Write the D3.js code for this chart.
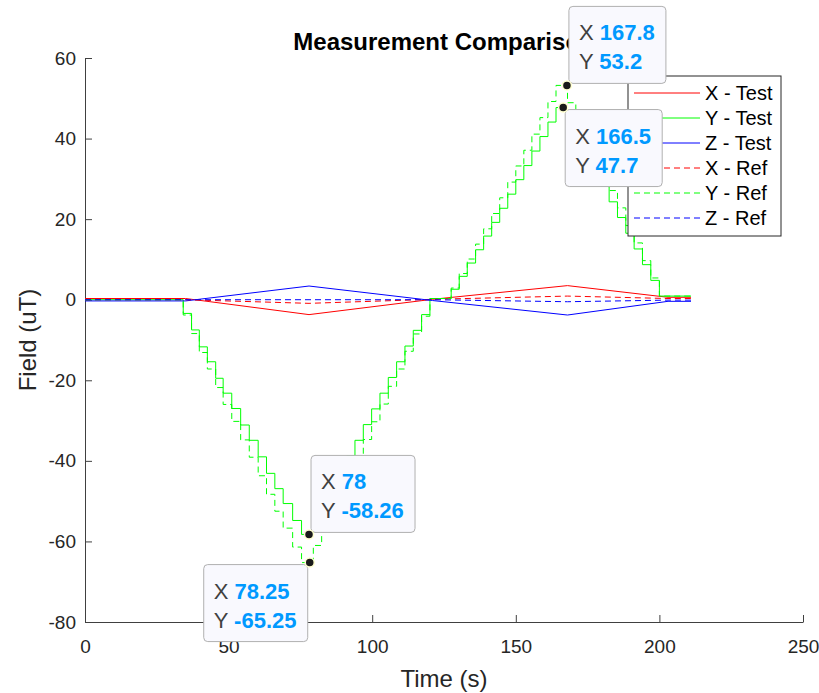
<!DOCTYPE html>
<html>
<head>
<meta charset="utf-8">
<script src="https://cdn.jsdelivr.net/npm/d3@7"></script>
<style>
body{margin:0;background:#fff;}
svg{display:block;font-family:"Liberation Sans",Arial,Helvetica,sans-serif;}
</style>
</head>
<body>
<div id="chart"></div>
<script>
//tick values and labels
const xTicks = [0,50,100,150,200,250];
const yTicks = [-80,-60,-40,-20,0,20,40,60];
const titleText = 'Measurement Comparison';
const xLabel = 'Time (s)';
const yLabel = 'Field (uT)';

//series names in legend order
const seriesNames = ['X - Test','Y - Test','Z - Test','X - Ref','Y - Ref','Z - Ref'];

//slow components (X and Z), read at the corners of each ramp
const rampTimes = [0, 35, 78, 121, 168, 203, 211];
const xTest = [0.3, 0.3, -3.7, 0.1, 3.5, 0.6, 0.6];
const zTest = [-0.3, -0.3, 3.4, -0.2, -3.8, -0.4, -0.4];
const xRef  = [0.0, 0.0, -0.9, 0.1, 0.9, 0.3, 0.3];
const zRef  = [0.0, 0.0, 0.0, 0.0, -0.5, -0.1, -0.1];

//staircase component (Y), time where each step starts and the level it holds
const stepTimes = [0,
    34.2, 37.1, 39.8, 42.6, 45.5, 48.1, 51.1, 54.2, 57.2, 60.3, 63.2, 66.1, 69.0, 72.3, 75.4,
    79.5, 82.4, 85.3, 88.2, 91.1, 94.0, 96.9, 99.8, 102.7, 105.6, 108.5, 111.4, 114.3, 117.2, 120.1,
    127.5, 130.3, 133.1, 136.0, 138.8, 141.6, 144.4, 147.2, 150.0, 152.8, 155.6, 158.4, 161.2, 164.0,
    168.0, 170.9, 173.8, 176.7, 179.6, 182.5, 185.4, 188.3, 191.2, 194.1, 197.0, 200.0,
    211];
const yTest = [0,
    -3.4, -7.5, -11.7, -15.4, -19.5, -23.2, -27.0, -31.1, -34.9, -39.0, -43.1, -46.9, -50.6, -54.8, -58.26,
    -54.4, -50.5, -46.6, -42.7, -38.8, -34.9, -31.0, -27.1, -23.2, -19.3, -15.4, -11.5, -7.6, -3.7, 0.3,
    2.6, 5.8, 9.1, 12.4, 15.8, 19.2, 22.7, 26.2, 29.8, 33.3, 36.9, 40.5, 44.1, 47.7,
    43.8, 39.9, 36.0, 32.1, 28.2, 24.3, 20.4, 16.5, 12.6, 8.7, 4.8, 0.9,
    0.9];
const yRef = [0,
    -3.8, -8.4, -13.1, -17.2, -21.8, -26.0, -30.2, -34.8, -39.1, -43.7, -48.3, -52.5, -56.7, -61.4, -65.25,
    -61.0, -56.6, -52.2, -47.8, -43.4, -39.0, -34.7, -30.3, -25.9, -21.5, -17.2, -12.8, -8.5, -4.1, 0.3,
    2.9, 6.5, 10.1, 13.8, 17.6, 21.4, 25.3, 29.2, 33.2, 37.1, 41.1, 45.2, 49.2, 53.2,
    48.9, 44.5, 40.2, 35.8, 31.5, 27.1, 22.8, 18.4, 14.1, 9.7, 5.4, 0.9,
    0.9];

//data tips
const tipX = [167.8, 166.5, 78, 78.25];
const tipY = [53.2, 47.7, -58.26, -65.25];

//layout
const CONSTANTS = {
    WIDTH:819,
    HEIGHT:693,
    LEFT:85,
    RIGHT:803,
    TOP:58,
    BOTTOM:622,
    TICK:7,
    AXIS_COLOR:'#404040',
    TEXT_COLOR:'#262626',
    COLORS:['#ff0000','#00ff00','#0000ff','#ff0000','#00ff00','#0000ff'],
    DASH:'6,4',
    TIP_CORNERS:['bl','tl','bl','tr'] //which corner of the box sits on the point
};

const svg = d3.select('#chart')
    .append('svg')
    .attr('width',CONSTANTS.WIDTH)
    .attr('height',CONSTANTS.HEIGHT);

//scales
const x = d3.scaleLinear().domain([0,250]).range([CONSTANTS.LEFT,CONSTANTS.RIGHT]);
const y = d3.scaleLinear().domain([-80,60]).range([CONSTANTS.BOTTOM,CONSTANTS.TOP]);

//axes, ticks point inwards like matlab, plain hyphen for negatives
const xAxis = d3.axisBottom(x).tickValues(xTicks).tickFormat(d=>String(d))
    .tickSizeInner(-CONSTANTS.TICK).tickSizeOuter(0).tickPadding(18);
const yAxis = d3.axisLeft(y).tickValues(yTicks).tickFormat(d=>String(d))
    .tickSizeInner(-CONSTANTS.TICK).tickSizeOuter(0).tickPadding(9);

const gx = svg.append('g')
    .attr('transform','translate(0,'+CONSTANTS.BOTTOM+')')
    .call(xAxis);
const gy = svg.append('g')
    .attr('transform','translate('+CONSTANTS.LEFT+',0)')
    .call(yAxis);

[gx,gy].forEach(g=>{
    g.selectAll('path,line').attr('stroke',CONSTANTS.AXIS_COLOR);
    g.selectAll('text').attr('fill',CONSTANTS.TEXT_COLOR).style('font-size','19px');
});

//title and labels
svg.append('text')
    .attr('x',(CONSTANTS.LEFT+CONSTANTS.RIGHT)/2)
    .attr('y',50)
    .attr('text-anchor','middle')
    .style('font-size','24px')
    .style('font-weight','bold')
    .attr('fill','#000')
    .text(titleText);

svg.append('text')
    .attr('x',(CONSTANTS.LEFT+CONSTANTS.RIGHT)/2)
    .attr('y',687)
    .attr('text-anchor','middle')
    .style('font-size','24px')
    .attr('fill',CONSTANTS.TEXT_COLOR)
    .text(xLabel);

svg.append('text')
    .attr('transform','translate(36,'+((CONSTANTS.TOP+CONSTANTS.BOTTOM)/2)+') rotate(-90)')
    .attr('text-anchor','middle')
    .style('font-size','24px')
    .attr('fill',CONSTANTS.TEXT_COLOR)
    .text(yLabel);

//series
const series = [
    {times:rampTimes, values:xTest, stairs:false},
    {times:stepTimes, values:yTest, stairs:true},
    {times:rampTimes, values:zTest, stairs:false},
    {times:rampTimes, values:xRef,  stairs:false},
    {times:stepTimes, values:yRef,  stairs:true},
    {times:rampTimes, values:zRef,  stairs:false}
];

series.forEach((s,i)=>{
    let line = d3.line()
        .x(d=>x(d[0]))
        .y(d=>y(d[1]))
        .curve(s.stairs ? d3.curveStepAfter : d3.curveLinear);
    svg.append('path')
        .datum(s.times.map((t,k)=>[t,s.values[k]]))
        .attr('d',line)
        .attr('fill','none')
        .attr('stroke',CONSTANTS.COLORS[i])
        .attr('stroke-width',1)
        .attr('stroke-dasharray',i>2 ? CONSTANTS.DASH : null);
});

//legend
const legend = svg.append('g').attr('transform','translate(628,76)');
legend.append('rect')
    .attr('width',153)
    .attr('height',160)
    .attr('fill','#fff')
    .attr('stroke','#262626')
    .attr('stroke-width',1);

seriesNames.forEach((name,i)=>{
    let ly = 17 + i*25;
    legend.append('line')
        .attr('x1',6).attr('x2',72)
        .attr('y1',ly).attr('y2',ly)
        .attr('stroke',CONSTANTS.COLORS[i])
        .attr('stroke-width',1)
        .attr('stroke-dasharray',i>2 ? CONSTANTS.DASH : null);
    legend.append('text')
        .attr('x',77)
        .attr('y',ly)
        .attr('dy','0.35em')
        .style('font-size','20px')
        .attr('fill','#000')
        .text(name);
});

//data tips
tipX.forEach((tx,i)=>{
    let px = x(tx), py = y(tipY[i]);
    let g = svg.append('g');
    let box = g.append('rect')
        .attr('rx',4)
        .attr('fill','#f9f9fe')
        .attr('stroke','#b0b0b0')
        .attr('stroke-width',1);

    let t = g.append('text').style('font-size','22px');
    let l1 = t.append('tspan').attr('x',0).attr('y',0);
    l1.append('tspan').attr('fill','#404040').text('X ');
    l1.append('tspan').attr('fill','#0099ff').style('font-weight','bold').text(String(tx));
    let l2 = t.append('tspan').attr('x',0).attr('y',29);
    l2.append('tspan').attr('fill','#404040').text('Y ');
    l2.append('tspan').attr('fill','#0099ff').style('font-weight','bold').text(String(tipY[i]));

    let bb = t.node().getBBox();
    let w = Math.round(bb.width) + 21;
    let h = 77;
    let corner = CONSTANTS.TIP_CORNERS[i];
    let left = corner[1]==='l' ? px + 2 : px - 2 - w;
    let top = corner[0]==='t' ? py + 2 : py - 2 - h;
    box.attr('x',left).attr('y',top).attr('width',w).attr('height',h);
    t.attr('transform','translate('+(left+10)+','+(top+34)+')');

    g.append('circle')
        .attr('cx',px).attr('cy',py)
        .attr('r',4.5)
        .attr('fill','#1a1a1a')
        .attr('stroke','#ffffd0')
        .attr('stroke-width',1.5);
});
</script>
</body>
</html>
